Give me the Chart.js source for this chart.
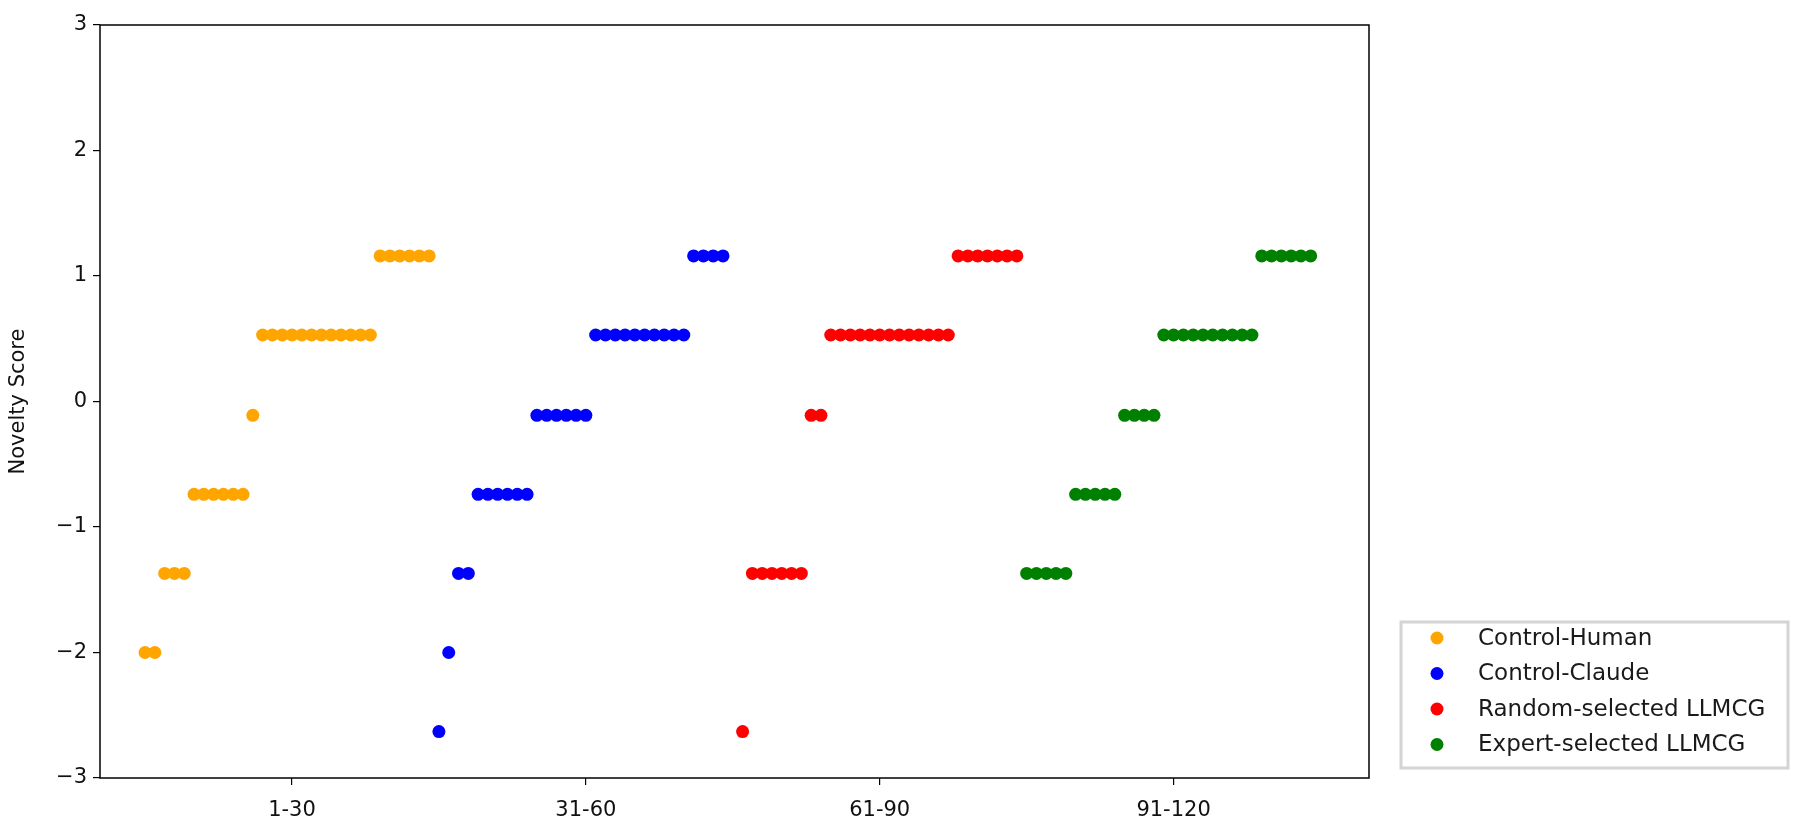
<!DOCTYPE html>
<html>
<head>
<meta charset="utf-8">
<script src="https://cdn.jsdelivr.net/npm/chart.js@4.4.0/dist/chart.umd.min.js"></script>
<style>
  html, body { margin:0; padding:0; background:#fff; }
  #wrap { width:1799px; height:820px; position:relative; }
</style>
</head>
<body>
<div id="wrap"><canvas id="chart" width="1799" height="820"></canvas></div>
<script>
// group names and colours
const seriesNames = ['Control-Human', 'Control-Claude', 'Random-selected LLMCG', 'Expert-selected LLMCG'];
const seriesColors = ['#ffa500', '#0000ff', '#ff0000', '#008000'];

// x index of the first idea in every group (index 60 is empty)
const groupStart = [0, 30, 61, 90];

// sorted novelty scores per group
const humanScores = [-2.0, -2.0, -1.37, -1.37, -1.37, -0.74, -0.74, -0.74, -0.74, -0.74, -0.74, -0.11,
  0.53, 0.53, 0.53, 0.53, 0.53, 0.53, 0.53, 0.53, 0.53, 0.53, 0.53, 0.53,
  1.16, 1.16, 1.16, 1.16, 1.16, 1.16];
const claudeScores = [-2.63, -2.0, -1.37, -1.37, -0.74, -0.74, -0.74, -0.74, -0.74, -0.74,
  -0.11, -0.11, -0.11, -0.11, -0.11, -0.11,
  0.53, 0.53, 0.53, 0.53, 0.53, 0.53, 0.53, 0.53, 0.53, 0.53,
  1.16, 1.16, 1.16, 1.16];
const randomScores = [-2.63, -1.37, -1.37, -1.37, -1.37, -1.37, -1.37, -0.11, -0.11,
  0.53, 0.53, 0.53, 0.53, 0.53, 0.53, 0.53, 0.53, 0.53, 0.53, 0.53, 0.53, 0.53,
  1.16, 1.16, 1.16, 1.16, 1.16, 1.16, 1.16];
const expertScores = [-1.37, -1.37, -1.37, -1.37, -1.37, -0.74, -0.74, -0.74, -0.74, -0.74,
  -0.11, -0.11, -0.11, -0.11,
  0.53, 0.53, 0.53, 0.53, 0.53, 0.53, 0.53, 0.53, 0.53, 0.53,
  1.16, 1.16, 1.16, 1.16, 1.16, 1.16];

// x tick positions and labels
const xTickPos = [15, 45, 75, 105];
const xTickLabels = ['1-30', '31-60', '61-90', '91-120'];

const allScores = [humanScores, claudeScores, randomScores, expertScores];

const datasets = allScores.map((scores, g) => ({
  label: seriesNames[g],
  data: scores.map((y, i) => ({ x: groupStart[g] + i, y: y })),
  backgroundColor: seriesColors[g],
  borderColor: seriesColors[g],
  borderWidth: 0,
  pointRadius: 6.5,
  pointHoverRadius: 6.5
}));

// frame round the plot + matplotlib-like legend box
const framePlugin = {
  id: 'frame',
  afterDraw(chart){
    const ctx = chart.ctx, a = chart.chartArea;
    ctx.save();
    ctx.strokeStyle = '#000';
    ctx.lineWidth = 1.5;
    ctx.strokeRect(a.left, a.top, a.right - a.left, a.bottom - a.top);

    // legend
    const lx = 1401, ly = 622, lw = 387, lh = 146;
    ctx.fillStyle = '#fff';
    ctx.fillRect(lx, ly, lw, lh);
    ctx.strokeStyle = '#d4d4d4';
    ctx.lineWidth = 3;
    ctx.strokeRect(lx, ly, lw, lh);
    ctx.font = '23px "DejaVu Sans"';
    ctx.textBaseline = 'middle';
    chart.data.datasets.forEach((ds, i) => {
      const cy = 638 + i * 35.5;
      ctx.fillStyle = ds.backgroundColor;
      ctx.beginPath();
      ctx.arc(1437, cy, 6.5, 0, Math.PI * 2);
      ctx.fill();
      ctx.fillStyle = '#1a1a1a';
      ctx.fillText(ds.label, 1478, cy + 1);
    });
    ctx.restore();
  }
};

new Chart(document.getElementById('chart').getContext('2d'), {
  type: 'scatter',
  data: { datasets },
  options: {
    responsive: false,
    animation: false,
    devicePixelRatio: 1,
    layout: { padding: { top: 25, right: 1799 - 1369, bottom: 0, left: 0 } },
    plugins: { legend: { display: false }, tooltip: { enabled: false } },
    scales: {
      x: {
        type: 'linear',
        min: -4.6,
        max: 124.95,
        afterFit(scale){ scale.height = 42; },
        afterBuildTicks(scale){ scale.ticks = xTickPos.map(v => ({ value: v })); },
        border: { display: false },
        grid: { drawOnChartArea: false, drawTicks: true, tickLength: 7, color: '#000', lineWidth: 1.2 },
        ticks: {
          color: '#111',
          padding: 13,
          maxRotation: 0,
          font: { family: 'DejaVu Sans', size: 21 },
          callback: (v) => xTickLabels[xTickPos.indexOf(v)]
        }
      },
      y: {
        min: -3,
        max: 3,
        afterFit(scale){ scale.width = 100; },
        border: { display: false },
        grid: { drawOnChartArea: false, drawTicks: true, tickLength: 7, color: '#000', lineWidth: 1.2 },
        ticks: {
          stepSize: 1,
          color: '#111',
          padding: 6,
          font: { family: 'DejaVu Sans', size: 21 },
          callback: (v) => v < 0 ? '\u2212' + Math.abs(v) : String(v)
        },
        title: {
          display: true,
          text: 'Novelty Score',
          color: '#111',
          padding: { top: 6, bottom: 0 },
          font: { family: 'DejaVu Sans', size: 21 }
        }
      }
    }
  },
  plugins: [framePlugin]
});
</script>
</body>
</html>
